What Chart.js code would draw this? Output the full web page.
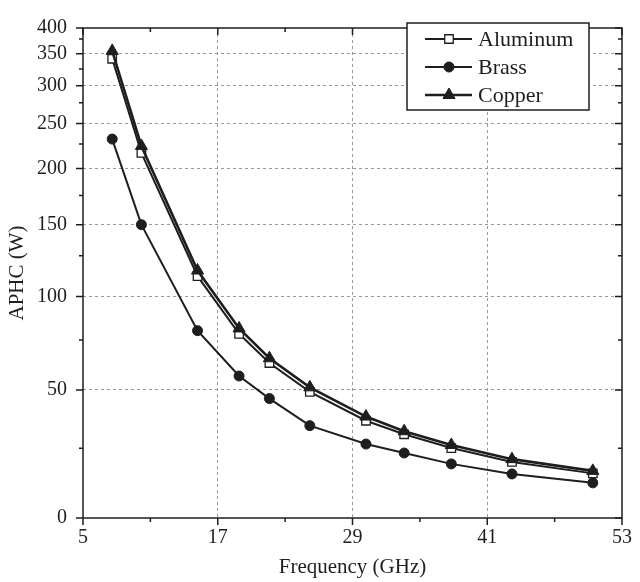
<!DOCTYPE html>
<html>
<head>
<meta charset="utf-8">
<title>APHC vs Frequency</title>
<script src="https://cdn.jsdelivr.net/npm/chart.js@4.4.1/dist/chart.umd.min.js"></script>
<style>
  html, body { margin: 0; padding: 0; background: #fff; }
  canvas { display: block; }
</style>
</head>
<body>
<canvas id="aphcChart" width="640" height="582"></canvas>
<script>
// Data
const freqs = [7.6, 10.2, 15.2, 18.9, 21.6, 25.2, 30.2, 33.6, 37.8, 43.2, 50.4];
const aluminum = [342, 216, 112.5, 78.6, 63.5, 49.2, 36.8, 31, 25.1, 20.1, 16];
const brass = [231, 150, 80.4, 57, 46.3, 34.7, 26.8, 23.3, 19.4, 15.8, 12.6];
const copper = [355, 223, 116, 81.7, 65.9, 51.3, 38.6, 32.3, 26.4, 21.1, 16.9];

const xTicks = [5, 17, 29, 41, 53];
const xMinor = [11, 23, 35, 47];
const yTicks = [0, 50, 100, 150, 200, 250, 300, 350, 400];
const yMinor = [25, 75, 125, 175, 225, 275, 325, 375];

// The y axis of the original is non-linear; knots of value -> fraction of height
const warpKnots = [0, 25, 50, 75, 100, 125, 150, 175, 200, 225, 250, 275, 300, 325, 350, 375, 400];
const warpFrac = [0, 0.1423, 0.2613, 0.3631, 0.4518, 0.5351, 0.5986, 0.6581, 0.7131,
                  0.7633, 0.8050, 0.8472, 0.8823, 0.9161, 0.9472, 0.9776, 1];

const ink = '#1e1e1e';
const serif = '"Liberation Serif", "DejaVu Serif", serif';

function interp(v, xs, ys) {
    if (v <= xs[0]) return ys[0];
    for (let i = 1; i < xs.length; i++) {
        if (v <= xs[i]) {
            const t = (v - xs[i - 1]) / (xs[i] - xs[i - 1]);
            return ys[i - 1] + t * (ys[i] - ys[i - 1]);
        }
    }
    return ys[ys.length - 1];
}

class WarpScale extends Chart.LinearScale {
    getPixelForValue(value) {
        if (value === null || value === undefined) return NaN;
        return this.getPixelForDecimal(interp(value, warpKnots, warpFrac));
    }
    getValueForPixel(pixel) {
        return interp(this.getDecimalForPixel(pixel), warpFrac, warpKnots);
    }
}
WarpScale.id = 'warp';
WarpScale.defaults = Chart.LinearScale.defaults;
Chart.register(WarpScale);

function toPoints(values) {
    return values.map((v, i) => ({ x: freqs[i], y: v }));
}

// Frame, mirrored ticks and the boxed legend
const framePlugin = {
    id: 'frame',
    afterDraw(chart) {
        const { ctx, chartArea: a, scales } = chart;
        const xs = scales.x, ys = scales.y;
        ctx.save();
        ctx.strokeStyle = ink;
        ctx.lineWidth = 1.5;
        ctx.strokeRect(a.left, a.top, a.right - a.left, a.bottom - a.top);

        ctx.beginPath();
        const tickX = (v, len) => {
            const px = xs.getPixelForValue(v);
            ctx.moveTo(px, a.bottom); ctx.lineTo(px, a.bottom + len);
            ctx.moveTo(px, a.top); ctx.lineTo(px, a.top + len);
        };
        const tickY = (v, len) => {
            const py = ys.getPixelForValue(v);
            ctx.moveTo(a.left, py); ctx.lineTo(a.left - len, py);
            ctx.moveTo(a.right, py); ctx.lineTo(a.right - len, py);
        };
        xTicks.forEach(v => tickX(v, 7));
        xMinor.forEach(v => tickX(v, 4));
        yTicks.forEach(v => tickY(v, 7));
        yMinor.forEach(v => tickY(v, 4));
        ctx.stroke();

        // legend
        const box = { left: 407, top: 23, right: 589, bottom: 110 };
        ctx.fillStyle = '#fff';
        ctx.fillRect(box.left, box.top, box.right - box.left, box.bottom - box.top);
        ctx.lineWidth = 1.5;
        ctx.strokeRect(box.left, box.top, box.right - box.left, box.bottom - box.top);
        const rows = [39, 67, 95];
        const legendSets = ['Aluminum', 'Brass', 'Copper'];
        legendSets.forEach((name, i) => {
            const ds = chart.data.datasets.find(d => d.label === name);
            const y = rows[i];
            ctx.strokeStyle = ink;
            ctx.lineWidth = ds.borderWidth;
            ctx.beginPath();
            ctx.moveTo(425, y); ctx.lineTo(472, y);
            ctx.stroke();
            ctx.fillStyle = ds.pointBackgroundColor;
            ctx.strokeStyle = ink;
            ctx.lineWidth = ds.pointBorderWidth;
            Chart.helpers.drawPoint(ctx, {
                pointStyle: ds.pointStyle,
                radius: ds.pointRadius,
                borderWidth: ds.pointBorderWidth,
                rotation: 0
            }, 449, y);
            ctx.fillStyle = ink;
            ctx.font = '22px ' + serif;
            ctx.textAlign = 'left';
            ctx.textBaseline = 'middle';
            ctx.fillText(name, 478, y + 1);
        });
        ctx.restore();
    }
};

function gridColor(edges) {
    return ctx => (edges.includes(ctx.tick && ctx.tick.value) ? 'rgba(0,0,0,0)' : '#9a9a9a');
}

new Chart(document.getElementById('aphcChart'), {
    type: 'line',
    data: {
        datasets: [
            {
                label: 'Copper',
                data: toPoints(copper),
                borderColor: ink,
                borderWidth: 2.6,
                pointStyle: 'triangle',
                pointRadius: 7,
                pointBackgroundColor: ink,
                pointBorderColor: ink,
                pointBorderWidth: 1,
                order: 0
            },
            {
                label: 'Brass',
                data: toPoints(brass),
                borderColor: ink,
                borderWidth: 2,
                pointStyle: 'circle',
                pointRadius: 5,
                pointBackgroundColor: ink,
                pointBorderColor: ink,
                pointBorderWidth: 1,
                order: 1
            },
            {
                label: 'Aluminum',
                data: toPoints(aluminum),
                borderColor: ink,
                borderWidth: 2,
                pointStyle: 'rect',
                pointRadius: 6,
                pointBackgroundColor: '#fff',
                pointBorderColor: ink,
                pointBorderWidth: 1.3,
                order: 2
            }
        ]
    },
    options: {
        responsive: false,
        animation: false,
        layout: { padding: { top: 14, right: 8, left: 0, bottom: 0 } },
        plugins: {
            legend: { display: false },
            tooltip: { enabled: false }
        },
        elements: { line: { tension: 0 } },
        scales: {
            x: {
                type: 'linear',
                min: 5,
                max: 53,
                afterBuildTicks: s => { s.ticks = xTicks.map(v => ({ value: v })); },
                afterFit: s => { s.height = 64; },
                ticks: {
                    color: ink,
                    font: { family: serif, size: 20 },
                    padding: 8,
                    maxRotation: 0
                },
                grid: {
                    drawTicks: false,
                    color: gridColor([5, 53]),
                    lineWidth: 1
                },
                border: { display: false, dash: [3, 3] },
                title: {
                    display: true,
                    text: 'Frequency (GHz)',
                    color: ink,
                    font: { family: serif, size: 21 },
                    padding: { top: 0, bottom: 2 }
                }
            },
            y: {
                type: 'warp',
                min: 0,
                max: 400,
                afterBuildTicks: s => { s.ticks = yTicks.map(v => ({ value: v })); },
                afterFit: s => { s.width = 83; },
                ticks: {
                    color: ink,
                    font: { family: serif, size: 20 },
                    padding: 16
                },
                grid: {
                    drawTicks: false,
                    color: gridColor([0, 400]),
                    lineWidth: 1
                },
                border: { display: false, dash: [3, 3] },
                title: {
                    display: true,
                    text: 'APHC (W)',
                    color: ink,
                    font: { family: serif, size: 21 },
                    padding: { top: 5, bottom: 0 }
                }
            }
        }
    },
    plugins: [framePlugin]
});
</script>
</body>
</html>
